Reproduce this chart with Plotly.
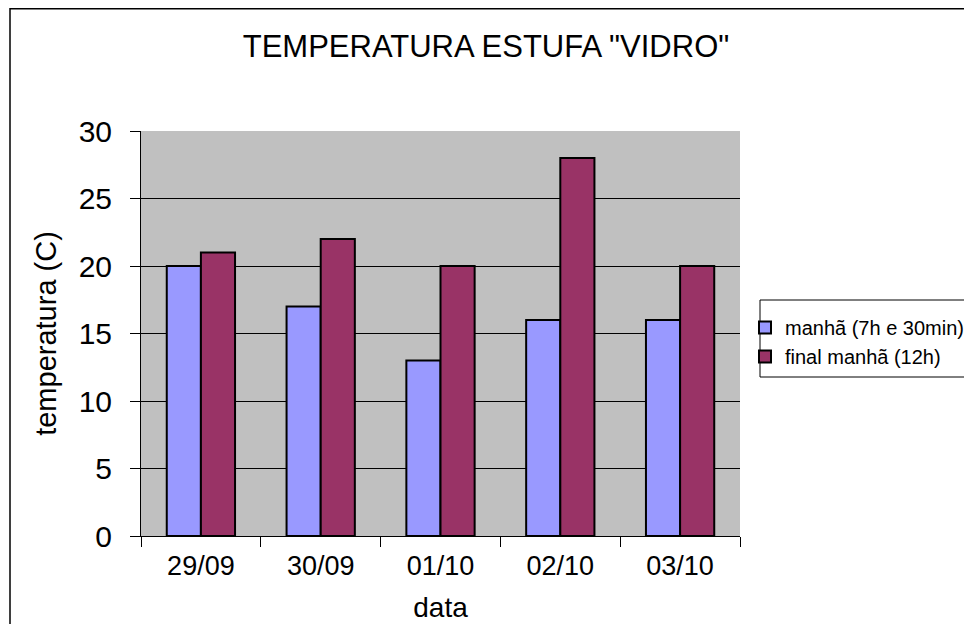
import plotly.graph_objects as go

categories = ["29/09", "30/09", "01/10", "02/10", "03/10"]
manha = [20, 17, 13, 16, 16]
final_manha = [21, 22, 20, 28, 20]
series_names = ["manhã (7h e 30min)", "final manhã (12h)"]
y_ticks = [0, 5, 10, 15, 20, 25, 30]

# page has an 8px body margin, so the figure is drawn 8px in from the window edge
OFF = 8
W, H = 972 - OFF, 624 - OFF
L, R, T, B = 141 - OFF, 740 - OFF, 131 - OFF, 536 - OFF  # plot area, figure pixels

def px(x):  # page x -> paper
    return (x - OFF - L) / (R - L)

def py(y):  # page y -> paper
    return (B - (y - OFF)) / (B - T)

FONT = "Liberation Sans, Arial, sans-serif"

fig = go.Figure()
fig.add_trace(go.Bar(x=categories, y=manha, name=series_names[0],
                     marker=dict(color="#9999FF", line=dict(color="black", width=2))))
fig.add_trace(go.Bar(x=categories, y=final_manha, name=series_names[1],
                     marker=dict(color="#993366", line=dict(color="black", width=2))))

fig.update_layout(
    width=W, height=H,
    margin=dict(l=L, r=W - R, t=T, b=H - B, pad=0, autoexpand=False),
    paper_bgcolor="white",
    plot_bgcolor="#C0C0C0",
    font=dict(family=FONT, color="black"),
    barmode="group",
    bargap=0.43,
    bargroupgap=0,
    title=dict(text='TEMPERATURA ESTUFA "VIDRO"', x=(486 - OFF) / W, xanchor="center",
               y=1 - (46 - OFF) / H, yanchor="middle", font=dict(size=31)),
    showlegend=True,
    legend=dict(x=px(745), xanchor="left", y=py(308), yanchor="top",
                font=dict(size=20), bgcolor="rgba(0,0,0,0)", borderwidth=0,
                itemwidth=30, tracegroupgap=0),
)

fig.update_xaxes(
    showline=True, linecolor="black", linewidth=1,
    ticks="outside", ticklen=10, tickcolor="black", tickwidth=1,
    tickson="boundaries", tickfont=dict(size=27), ticklabelstandoff=6,
    title=dict(text="data", font=dict(size=28), standoff=16),
    showgrid=False, zeroline=False,
)
fig.update_yaxes(
    range=[0, 30], tickvals=y_ticks, showline=True, linecolor="black", linewidth=1,
    ticks="outside", ticklen=10, tickcolor="black", tickwidth=1,
    tickfont=dict(size=30), ticklabelstandoff=12,
    showgrid=True, gridcolor="black", gridwidth=1,
    zeroline=False,
    title=dict(text="temperatura (C)", font=dict(size=29), standoff=13),
)

# chart area border (extends beyond the window on the right and bottom)
fig.add_shape(type="rect", xref="paper", yref="paper",
              x0=px(10), x1=px(990), y0=py(640), y1=py(8.75),
              line=dict(color="black", width=1.5), fillcolor="rgba(0,0,0,0)", layer="below")
# legend box
fig.add_shape(type="rect", xref="paper", yref="paper",
              x0=px(760), x1=px(990), y0=py(377), y1=py(300),
              line=dict(color="black", width=1), fillcolor="white", layer="below")

fig.write_html("out.html")
